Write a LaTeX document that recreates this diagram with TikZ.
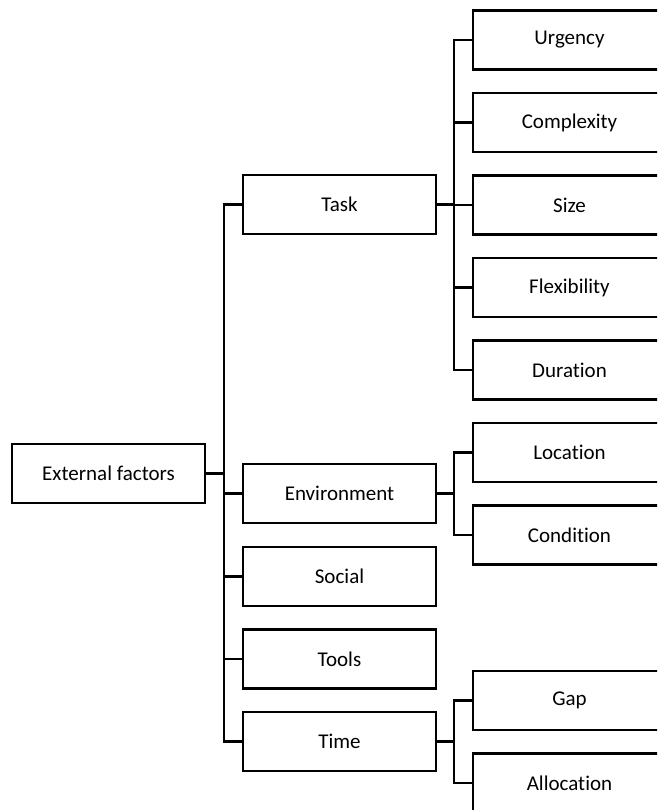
\documentclass[tikz,border=0pt]{standalone}
\usepackage{fontspec}
\setmainfont{Carlito}[Ligatures=NoCommon]
\begin{document}
\begin{tikzpicture}[x=1pt,y=-1pt,
  box/.style={draw=black, fill=white, line width=2.2pt, rectangle,
    minimum width=193pt, minimum height=59pt, inner sep=0pt,
    font=\fontsize{21}{25}\selectfont},
  link/.style={draw=black, line width=2.2pt, line cap=rect}]
\useasboundingbox (0,0) rectangle (657,810);
\clip (0,0) rectangle (657,810);
\fill[white] (0,0) rectangle (657,810);

% branch lines
\coordinate (tk) at (224,0);
\coordinate (sx) at (454,0);

% root
\node[box] (ext) at (108.5,473.5) {External factors};

% first level
\node[box] (task)   at (339.5,204.5) {Task};
\node[box] (env)    at (339.5,493.5) {Environment};
\node[box] (social) at (339.5,576.5) {Social};
\node[box] (tools)  at (339.5,659)   {Tools};
\node[box] (time)   at (339.5,741.5) {Time};

% second level
\node[box] (urg)  at (569.5,40)    {Urgency};
\node[box] (comp) at (569.5,122.5) {Complexity};
\node[box] (size) at (569.5,205)   {Size};
\node[box] (flex) at (569.5,287.5) {Flexibility};
\node[box] (dur)  at (569.5,370)   {Duration};
\node[box] (loc)  at (569.5,452.5) {Location};
\node[box] (cond) at (569.5,535)   {Condition};
\node[box] (gap)  at (569.5,700.5) {Gap};
\node[box] (alloc) at (569.5,783)  {Allocation};

% root to first level
\draw[link] (ext.east) -- (ext.east -| tk);
\draw[link] (task.west) -- (task.west -| tk) -- (time.west -| tk) -- (time.west);
\draw[link] (env.west) -- (env.west -| tk);
\draw[link] (social.west) -- (social.west -| tk);
\draw[link] (tools.west) -- (tools.west -| tk);

% task branch
\draw[link] (task.east) -- (task.east -| sx);
\draw[link] (urg.west) -- (urg.west -| sx) -- (dur.west -| sx) -- (dur.west);
\draw[link] (comp.west) -- (comp.west -| sx);
\draw[link] (size.west) -- (size.west -| sx);
\draw[link] (flex.west) -- (flex.west -| sx);

% environment branch
\draw[link] (env.east) -- (env.east -| sx);
\draw[link] (loc.west) -- (loc.west -| sx) -- (cond.west -| sx) -- (cond.west);

% time branch
\draw[link] (time.east) -- (time.east -| sx);
\draw[link] (gap.west) -- (gap.west -| sx) -- (alloc.west -| sx) -- (alloc.west);
\end{tikzpicture}
\end{document}
